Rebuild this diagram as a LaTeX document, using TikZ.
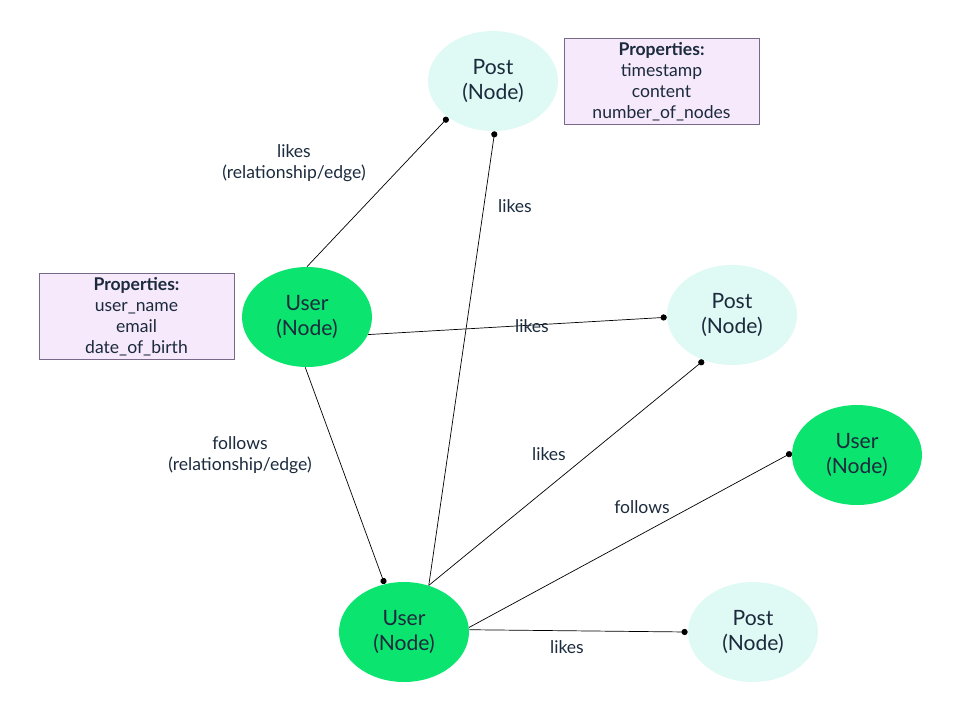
\documentclass[tikz,border=0pt]{standalone}
\usepackage{fontspec}
\setmainfont{Lato}
\usetikzlibrary{shapes.geometric, arrows.meta}
\definecolor{usergreen}{HTML}{0BE46E}
\definecolor{postcyan}{HTML}{DFF9F4}
\definecolor{proplav}{HTML}{F6E9FC}
\definecolor{propline}{HTML}{77698A}
\definecolor{inktext}{HTML}{1B2A3C}
\tikzstyle{user} = [ellipse, minimum width=2.6cm, minimum height=2cm, align=center, fill=usergreen, font=\large, text=inktext]
\tikzstyle{post} = [ellipse, minimum width=2.6cm, minimum height=2cm, align=center, fill=postcyan, font=\large, text=inktext]
\tikzstyle{props} = [rectangle, minimum width=3.9cm, minimum height=1.66cm, align=center, draw=propline, fill=proplav, text=inktext, inner sep=2pt]
\tikzstyle{edge} = [-{Circle[length=3.5pt]}, black, thin]
\tikzstyle{lbl} = [align=center, text=inktext]

\begin{document}
\begin{tikzpicture}[x=0.02cm, y=-0.02cm]
		\useasboundingbox (0,0) rectangle (968,708);
		\node (posttop) [post] at (493,81) {Post\\(Node)};
		\node (postmid) [post] at (732,315) {Post\\(Node)};
		\node (postbot) [post] at (753,632) {Post\\(Node)};
		\node (usertop) [user] at (307,317) {User\\(Node)};
		\node (userright) [user] at (857,455) {User\\(Node)};
		\node (userbot) [user] at (404,632) {User\\(Node)};

		\node (propspost) [props] at (661.5,81.5) {\textbf{Properties:}\\timestamp\\content\\number\_of\_nodes};
		\node (propsuser) [props] at (136.5,316.5) {\textbf{Properties:}\\user\_name\\email\\date\_of\_birth};

		\draw [edge](usertop.north) -- (posttop.-141);
		\draw [edge](userbot.62) -- (posttop.-88);
		\draw [edge](usertop.-16) -- (postmid.182);
		\draw [edge](usertop.-92) -- (userbot.112);
		\draw [edge](userbot.62) -- (postmid.-122);
		\draw [edge](userbot.4) -- (userright.178);
		\draw [edge](userbot.2) -- (postbot.180);

		\node (lbl1) [lbl] at (294,163) {likes\\(relationship/edge)};
		\node (lbl2) [lbl] at (515,206) {likes};
		\node (lbl3) [lbl] at (532,326) {likes};
		\node (lbl4) [lbl] at (240,455) {follows\\(relationship/edge)};
		\node (lbl5) [lbl] at (549,454) {likes};
		\node (lbl6) [lbl] at (642,507) {follows};
		\node (lbl7) [lbl] at (567,647) {likes};
	\end{tikzpicture}
\end{document}
